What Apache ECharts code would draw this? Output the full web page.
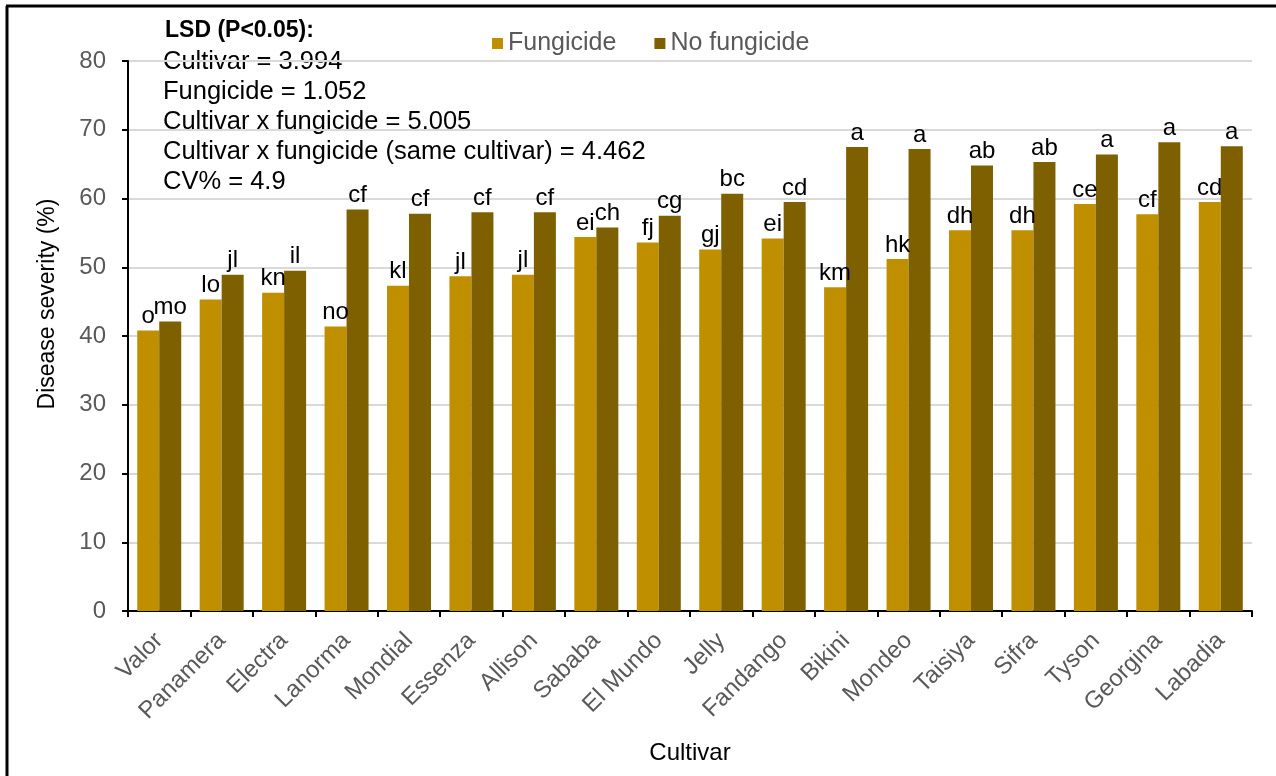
<!DOCTYPE html>
<html>
<head>
<meta charset="utf-8">
<script src="https://cdn.jsdelivr.net/npm/echarts@6/dist/echarts.min.js"></script>
<style>
  html, body { margin: 0; padding: 0; background: #fff; }
  #chart { width: 1276px; height: 776px; }
</style>
</head>
<body>
<div id="chart"></div>
<script>
var cultivars = ['Valor', 'Panamera', 'Electra', 'Lanorma', 'Mondial', 'Essenza', 'Allison', 'Sababa', 'El Mundo',
    'Jelly', 'Fandango', 'Bikini', 'Mondeo', 'Taisiya', 'Sifra', 'Tyson', 'Georgina', 'Labadia'];

var fungicide = [40.8, 45.3, 46.3, 41.4, 47.3, 48.7, 48.9, 54.4, 53.6, 52.6, 54.2, 47.1, 51.2, 55.4, 55.4, 59.2, 57.7, 59.5];
var noFungicide = [42.1, 48.9, 49.5, 58.4, 57.8, 58.0, 58.0, 55.8, 57.5, 60.7, 59.5, 67.5, 67.2, 64.8, 65.3, 66.4, 68.2, 67.6];

var fungicideLetters = ['o', 'lo', 'kn', 'no', 'kl', 'jl', 'jl', 'ei', 'fj', 'gj', 'ei', 'km', 'hk', 'dh', 'dh', 'ce', 'cf', 'cd'];
var noFungicideLetters = ['mo', 'jl', 'il', 'cf', 'cf', 'cf', 'cf', 'ch', 'cg', 'bc', 'cd', 'a', 'a', 'ab', 'ab', 'a', 'a', 'a'];

var lsdLines = ['Cultivar = 3.994', 'Fungicide = 1.052', 'Cultivar x fungicide = 5.005',
    'Cultivar x fungicide (same cultivar) = 4.462', 'CV% = 4.9'];

var font = 'Liberation Sans, Arial, sans-serif';
var chart = echarts.init(document.getElementById('chart'));

function letterLabel(letters) {
    return {
        show: true,
        position: 'top',
        distance: 2,
        color: '#000',
        fontSize: 24,
        fontFamily: font,
        formatter: function (p) { return letters[p.dataIndex]; }
    };
}

var graphics = [
    { type: 'line', shape: { x1: 6, y1: 6, x2: 1276, y2: 6 }, style: { stroke: '#000', lineWidth: 3 } },
    { type: 'line', shape: { x1: 7, y1: 6, x2: 7, y2: 776 }, style: { stroke: '#000', lineWidth: 3 } },
    {
        type: 'text', x: 165, y: 31,
        style: { text: 'LSD (P<0.05):', font: 'bold 23px ' + font, fill: '#000', verticalAlign: 'middle' }
    },
    {
        type: 'text', x: 48, y: 304, rotation: Math.PI / 2,
        style: { text: 'Disease severity (%)', font: '23px ' + font, fill: '#000', align: 'center', verticalAlign: 'middle' }
    }
];
lsdLines.forEach(function (t, i) {
    graphics.push({
        type: 'text', x: 163, y: 62 + i * 30,
        style: { text: t, font: '25.5px ' + font, fill: '#000', verticalAlign: 'middle' }
    });
});

var option = {
    backgroundColor: '#fff',
    animation: false,
    textStyle: { fontFamily: font },
    grid: { left: 128, right: 24, top: 61, bottom: 165 },
    legend: {
        top: 26,
        left: 487,
        itemWidth: 11,
        itemHeight: 11,
        itemGap: 38,
        icon: 'rect',
        textStyle: { color: '#595959', fontSize: 25, fontFamily: font },
        data: ['Fungicide', 'No fungicide']
    },
    xAxis: {
        type: 'category',
        data: cultivars,
        name: 'Cultivar',
        nameLocation: 'middle',
        nameGap: 130,
        nameTextStyle: { color: '#000', fontSize: 24, fontFamily: font },
        axisLine: { lineStyle: { color: '#000', width: 2 } },
        axisTick: { show: true, length: 6, lineStyle: { color: '#000', width: 2 } },
        axisLabel: { rotate: 45, color: '#595959', fontSize: 24, fontFamily: font, margin: 26, interval: 0 }
    },
    yAxis: {
        type: 'value',
        min: 0,
        max: 80,
        interval: 10,
        axisLine: { show: true, lineStyle: { color: '#000', width: 2 } },
        axisTick: { show: true, length: 6, lineStyle: { color: '#000', width: 2 } },
        axisLabel: { color: '#595959', fontSize: 24, fontFamily: font, margin: 22 },
        splitLine: { lineStyle: { color: '#D9D9D9', width: 2 } }
    },
    series: [
        {
            name: 'Fungicide',
            type: 'bar',
            data: fungicide,
            barWidth: 22,
            barGap: '0%',
            itemStyle: { color: '#BF8F00' },
            label: letterLabel(fungicideLetters)
        },
        {
            name: 'No fungicide',
            type: 'bar',
            data: noFungicide,
            barWidth: 22,
            itemStyle: { color: '#7F6000' },
            label: letterLabel(noFungicideLetters)
        }
    ],
    graphic: graphics
};

chart.setOption(option);
</script>
</body>
</html>
